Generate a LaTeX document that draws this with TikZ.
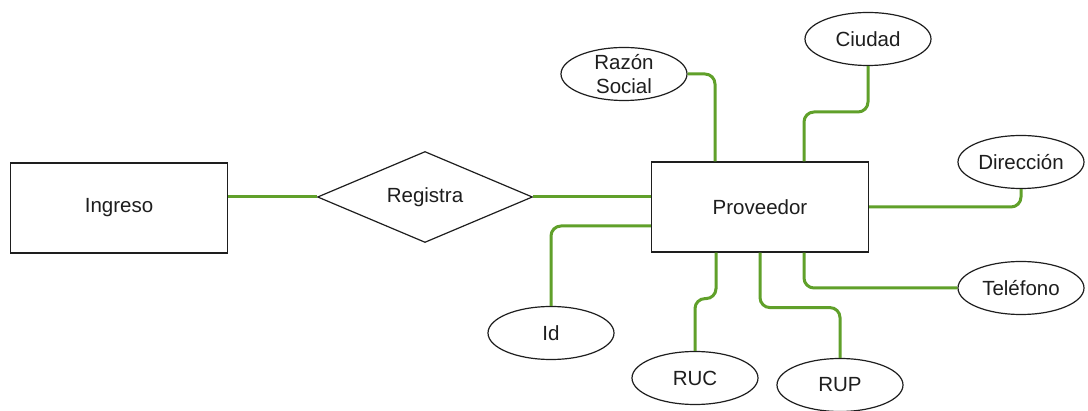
\documentclass[tikz,border=0pt]{standalone}
\usepackage{fontspec}
\setmainfont{Liberation Sans}
\usetikzlibrary{shapes.geometric}
\definecolor{linkgreen}{RGB}{96,160,42}
\definecolor{inkgray}{RGB}{30,30,30}
\tikzset{
  base/.style={draw=inkgray, line width=1.2pt, fill=white, inner sep=0pt,
               text=inkgray, font=\fontsize{20.5}{24}\selectfont},
  entity/.style={base, rectangle, minimum width=217pt, minimum height=90pt},
  relation/.style={base, diamond, aspect=2.36, minimum width=215pt, minimum height=91pt},
  attribute/.style={base, ellipse, minimum width=126pt, minimum height=53pt},
  lbl/.style={inner sep=0pt, text=inkgray, font=\fontsize{20.5}{24}\selectfont, align=center},
  link/.style={draw=linkgreen, line width=3pt, rounded corners=10pt}
}
\begin{document}
\begin{tikzpicture}[x=1pt,y=-1pt]
\useasboundingbox[fill=white] (0,0) rectangle (1088,411);

% connectors first, so the shapes sit on top of their ends
\coordinate (ingC) at (119,208);
\coordinate (provC) at (760,207);

% entities and relation
\node[entity]   (ing)  at (ingC)    {Ingreso};
\node[relation] (reg)  at (425,197) {Registra};
\node[entity]   (prov) at (provC)   {Proveedor};

% attributes
\node[attribute] (razon)  at (624,74)   {};
\node[lbl]       (razonT) at (razon)    {Razón\\Social};
\node[attribute] (ciudad) at (868,39)   {Ciudad};
\node[attribute] (dir)    at (1021,162) {Dirección};
\node[attribute] (tel)    at (1021,288) {Teléfono};
\node[attribute] (id)     at (551,333)  {Id};
\node[attribute] (ruc)    at (695,378)  {RUC};
\node[attribute] (rup)    at (840,385)  {RUP};

% relationship links
\draw[link] (reg.west) -- (reg.west -| ing.east);
\draw[link] (reg.east) -- (reg.east -| prov.west);

% attribute links
\draw[link] ([yshift=-19pt]prov.west) -| (id.north);
\draw[link] (razon.east) -| ([xshift=-45pt]prov.north);
\draw[link] (ciudad.south) -- (ciudad.south |- 0,112) -| ([xshift=44pt]prov.north);
\draw[link] (prov.east) -| (dir.south);
\draw[link] ([xshift=44pt]prov.south) |- (tel.west);
\draw[link] ([xshift=-44pt]prov.south) -- ++(0,46) -| (ruc.north);
\draw[link] (prov.south) -- ++(0,55) -| (rup.north);
\end{tikzpicture}
\end{document}
